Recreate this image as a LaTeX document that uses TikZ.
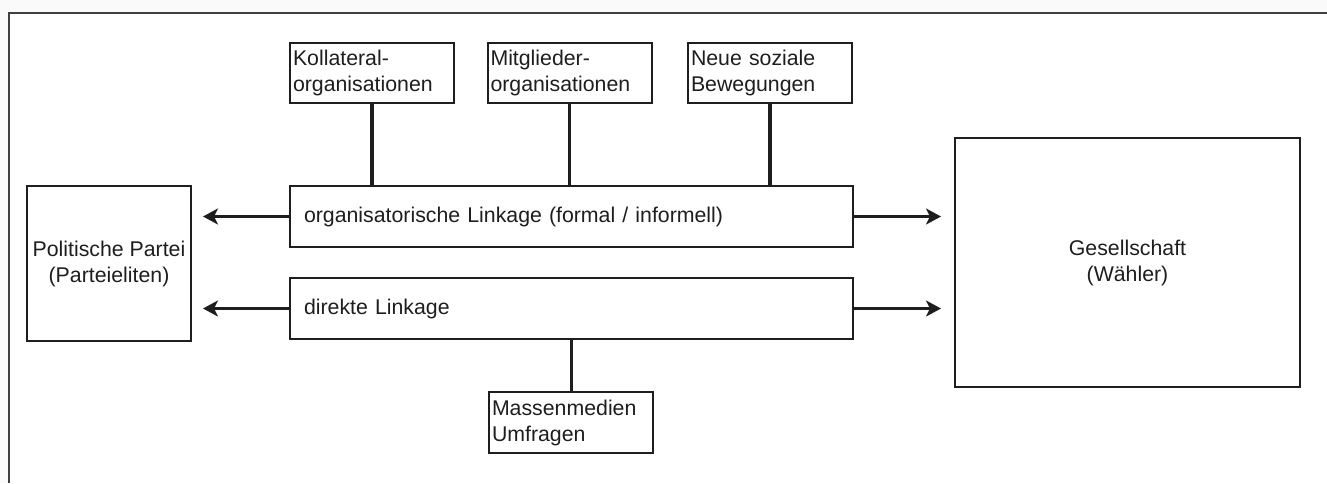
\documentclass[tikz,border=0pt]{standalone}
\usepackage{fontspec}
\setmainfont{Liberation Sans}
\usetikzlibrary{arrows.meta}
\definecolor{ink}{HTML}{1E1E1E}
\begin{document}
\begin{tikzpicture}[x=1pt,y=-1pt,
  every node/.style={font=\fontsize{21.3}{26}\selectfont, text=ink},
  box/.style={draw=ink, line width=2pt, inner sep=0pt, outer sep=0pt},
  smallbox/.style={box, minimum width=164pt, minimum height=60pt, text width=158pt, align=left, inner xsep=3pt},
  linkbox/.style={box, minimum width=563pt, minimum height=61pt, text width=535pt, align=left, inner xsep=14pt},
  conn/.style={draw=ink, line width=3.4pt},
  arr/.style={draw=ink, line width=3.4pt, -{Stealth[length=15pt,width=16pt,inset=4pt]}}
]
\useasboundingbox (0,0) rectangle (1327,483);
\fill[white!98!black] (0,0) rectangle (1327,483);
\fill[white] (9,13) rectangle (1327,483);
\draw[draw=ink!85, line width=1.5pt] (9,483) -- (9,13) -- (1327,13);

\node[box, minimum width=164pt, minimum height=155pt, align=center] (partei) at (109,263.5) {Politische Partei\\(Parteieliten)};
\node[box, minimum width=345pt, minimum height=249pt, align=center] (gesell) at (1127.5,262.5) {Gesellschaft\\(Wähler)};

\node[linkbox] (org) at (571.5,216.5) {organisatorische Linkage (formal / informell)};
\node[linkbox] (dir) at (571.5,308.5) {direkte Linkage};

\node[smallbox] (koll) at (372,73) {Kollateral-\\organisationen};
\node[smallbox] (mitg) at (569.5,73) {Mitglieder-\\organisationen};
\node[smallbox] (neue) at (770,73) {Neue soziale\\Bewegungen};
\node[smallbox, minimum height=61pt] (mass) at (571,422.5) {Massenmedien\\Umfragen};

\draw[conn] (koll.south) -- (koll.south |- org.north);
\draw[conn] (mitg.south) -- (mitg.south |- org.north);
\draw[conn] (neue.south) -- (neue.south |- org.north);
\draw[conn] (dir.south) -- (dir.south |- mass.north);

\draw[arr] (org.west) -- ([xshift=12pt]partei.east |- org.west);
\draw[arr] (dir.west) -- ([xshift=12pt]partei.east |- dir.west);
\draw[arr] (org.east) -- ([xshift=-14pt]gesell.west |- org.east);
\draw[arr] (dir.east) -- ([xshift=-14pt]gesell.west |- dir.east);
\end{tikzpicture}
\end{document}
